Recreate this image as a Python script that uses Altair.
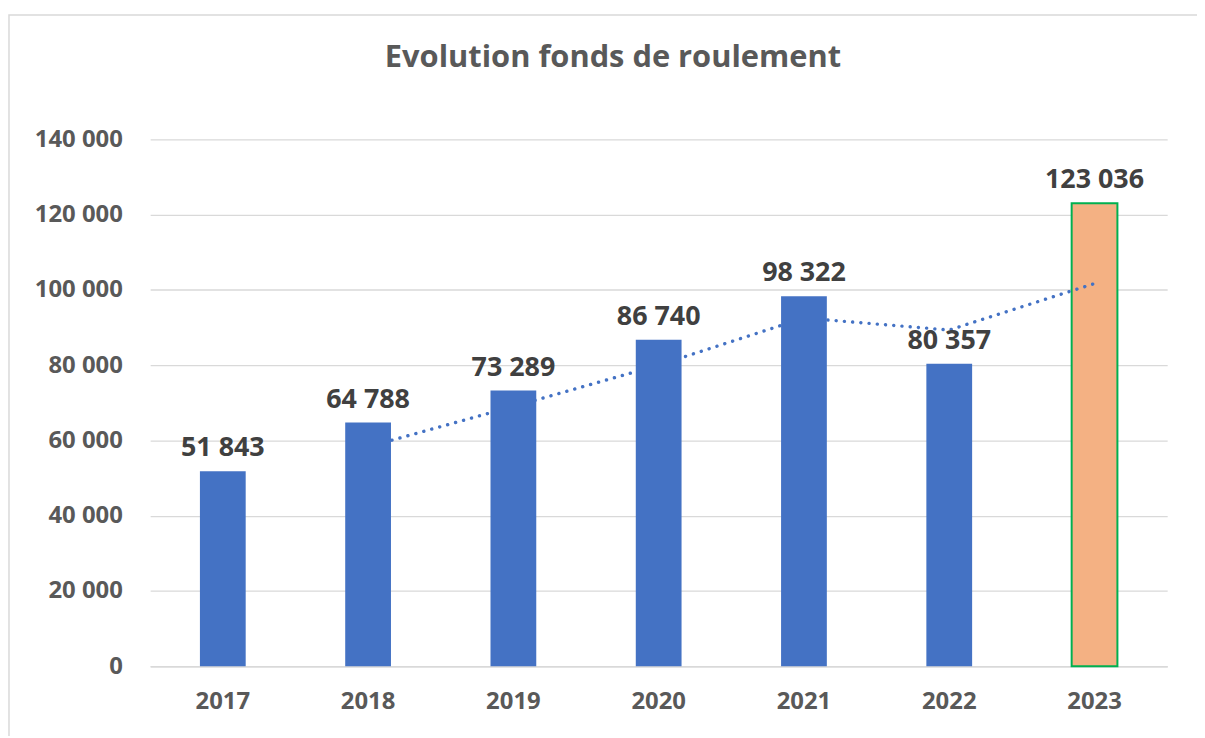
import altair as alt
import pandas as pd

years = ["2017", "2018", "2019", "2020", "2021", "2022", "2023"]
values = [51843, 64788, 73289, 86740, 98322, 80357, 123036]
highlight = [False, False, False, False, False, False, True]
# dotted trend line (starts at 2018)
trend_years = ["2018", "2019", "2020", "2021", "2022", "2023"]
trend_values = [58316, 69039, 80015, 92531, 89340, 101697]
y_ticks = [0, 20000, 40000, 60000, 80000, 100000, 120000, 140000]

df = pd.DataFrame({"year": years, "value": values, "hl": highlight})
df["label"] = [f"{v:,}".replace(",", " ") for v in values]
tdf = pd.DataFrame({"year": trend_years, "trend": trend_values})

FONT = "Open Sans"
W, H = 1023, 530

xscale = alt.Scale(domain=years, paddingInner=0.685, paddingOuter=0.3425)
yscale = alt.Scale(domain=[0, 140000], nice=False)

x_enc = alt.X("year:N", scale=xscale, sort=years, title=None,
              axis=alt.Axis(labelAngle=0, labelFont=FONT, labelFontSize=24,
                            labelFontWeight="bold", labelColor="#595959",
                            labelPadding=23, ticks=False, domain=True,
                            domainColor="#D9D9D9", domainWidth=1.3))
y_enc = alt.Y("value:Q", scale=yscale, title=None,
              axis=alt.Axis(values=y_ticks, labelFont=FONT, labelFontSize=24,
                            labelFontWeight="bold", labelColor="#595959",
                            labelPadding=28, ticks=False, domain=False,
                            grid=True, gridColor="#D9D9D9", gridWidth=1.3,
                            labelExpr="replace(format(datum.value, ',d'), /,/g, ' ')"))

base = alt.Chart(df)

border = alt.Chart(pd.DataFrame({"k": [0]})).mark_rect(
    fill=None, stroke="#D9D9D9", strokeWidth=1.5, clip=False
).encode(x=alt.value(-142), x2=alt.value(1080), y=alt.value(-125), y2=alt.value(640))

orange = base.transform_filter("datum.hl").mark_bar(
    color="#F4B183", stroke="#00B050", strokeWidth=2
).encode(x=x_enc, y=y_enc)

trend = alt.Chart(tdf).mark_line(
    color="#4472C4", strokeWidth=3.4, strokeDash=[0.1, 8.2], strokeCap="round"
).encode(x=alt.X("year:N", scale=xscale, sort=years),
         y=alt.Y("trend:Q", scale=yscale))

blue = base.transform_filter("!datum.hl").mark_bar(color="#4472C4").encode(x=x_enc, y=y_enc)

labels = base.mark_text(
    baseline="bottom", dy=-9, font=FONT, fontSize=27, fontWeight="bold", color="#404040"
).encode(x=alt.X("year:N", scale=xscale, sort=years),
         y=alt.Y("value:Q", scale=yscale), text="label:N")

chart = alt.layer(border, orange, trend, blue, labels).properties(
    width=W, height=H,
    background="white",
    title=alt.TitleParams("Evolution fonds de roulement", font=FONT, fontSize=31,
                          fontWeight="bold", color="#595959", anchor="middle",
                          offset=0, dy=60, dx=-46),
    autosize=alt.AutoSizeParams(type="none"),
    padding={"left": 143, "top": 130, "right": 30, "bottom": 68},
).configure_view(stroke=None)

chart.save("out.html", embed_options={"renderer": "svg", "actions": False})
